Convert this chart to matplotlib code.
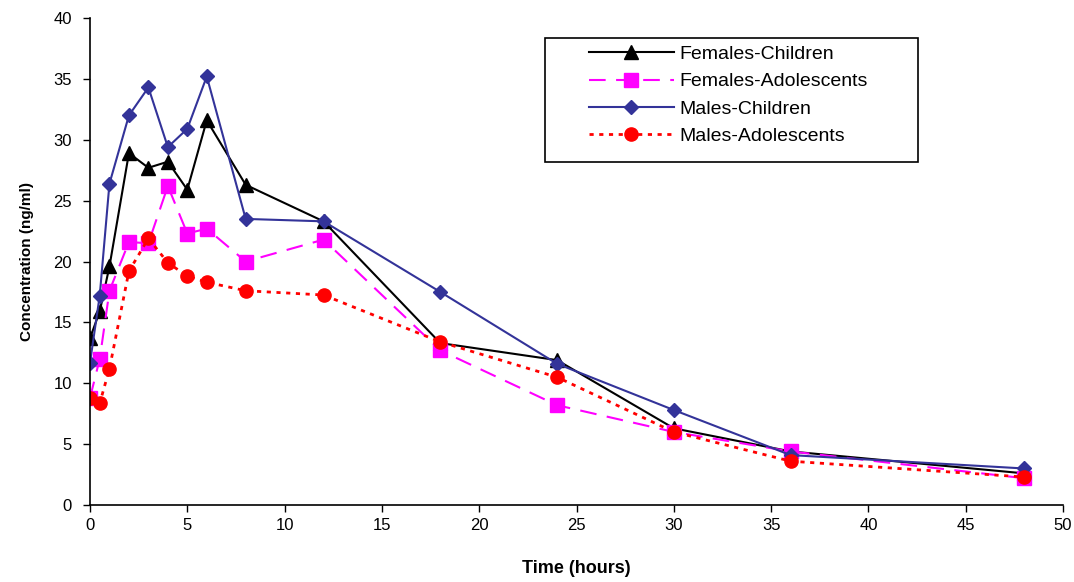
import matplotlib.pyplot as plt
from matplotlib.patches import Rectangle

plt.rcParams['font.family'] = ['Liberation Sans', 'DejaVu Sans']

# Sampling times (hours) and mean concentrations (ng/ml)
time_h = [0, 0.5, 1, 2, 3, 4, 5, 6, 8, 12, 18, 24, 30, 36, 48]
females_children = [13.7, 15.9, 19.6, 28.9, 27.7, 28.2, 25.9, 31.6, 26.3, 23.3, 13.3, 11.9, 6.3, 4.4, 2.6]
females_adolescents = [8.8, 12.0, 17.6, 21.6, 21.5, 26.2, 22.3, 22.7, 20.0, 21.8, 12.7, 8.2, 6.0, 4.4, 2.2]
males_children = [11.7, 17.2, 26.4, 32.0, 34.3, 29.4, 30.9, 35.2, 23.5, 23.3, 17.5, 11.6, 7.8, 4.1, 3.0]
males_adolescents = [8.8, 8.35, 11.2, 19.2, 21.9, 19.9, 18.8, 18.3, 17.6, 17.25, 13.4, 10.5, 6.0, 3.6, 2.3]

fig = plt.figure(figsize=(10.74, 5.82), dpi=100)
ax = fig.add_axes([0.0838, 0.1323, 0.906, 0.8367])

ax.plot(time_h, females_children, color='black', linewidth=1.5,
        marker='^', markersize=10, label='Females-Children')
ax.plot(time_h, females_adolescents, color='#FF00FF', linewidth=1.5,
        linestyle=(0, (8, 5)), marker='s', markersize=10,
        label='Females-Adolescents')
ax.plot(time_h, males_children, color='#333399', linewidth=1.5,
        marker='D', markersize=7, label='Males-Children')
ax.plot(time_h, males_adolescents, color='#FF0000', linewidth=2,
        linestyle=(0, (1.5, 2)), marker='o', markersize=9.5,
        label='Males-Adolescents')

ax.set_xlim(0, 50)
ax.set_ylim(0, 40)
ax.set_xticks(range(0, 51, 5))
ax.set_yticks(range(0, 41, 5))
ax.tick_params(direction='out', length=5, width=1, labelsize=12)
ax.tick_params(axis='y', pad=8)
ax.tick_params(axis='x', pad=4)

for side in ('top', 'right'):
    ax.spines[side].set_visible(False)
for side in ('left', 'bottom'):
    ax.spines[side].set_linewidth(1.2)

ax.set_xlabel('Time (hours)', fontsize=13, fontweight='bold', labelpad=20)
ax.set_ylabel('Concentration (ng/ml)', fontsize=11, fontweight='bold', labelpad=14)

# legend entries without frame, boxed by a separate rectangle
leg = ax.legend(loc='upper left', bbox_to_anchor=(0.548, 0.922),
                bbox_transform=fig.transFigure, borderaxespad=0,
                fontsize=14, frameon=False,
                handlelength=4.4, handletextpad=0.25, labelspacing=0.5,
                borderpad=0)
fig.patches.append(Rectangle((545 / 1074, 1 - 162 / 582), 373 / 1074, 124 / 582,
                             transform=fig.transFigure, fill=False,
                             edgecolor='black', linewidth=1.2))

fig.savefig('out.png', dpi=100)
